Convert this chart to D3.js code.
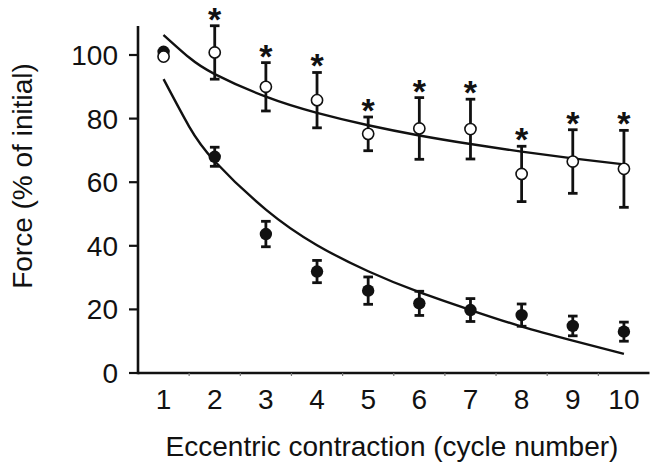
<!DOCTYPE html>
<html>
<head>
<meta charset="utf-8">
<script src="https://cdn.jsdelivr.net/npm/d3@7"></script>
<style>
  html, body { margin: 0; padding: 0; background: #fff; }
  svg { display: block; }
  text { font-family: "Liberation Sans", Arial, sans-serif; fill: #111; }
</style>
</head>
<body>
<svg id="chart" width="658" height="476"></svg>
<script>
// ---- Data ----
const cycles = [1, 2, 3, 4, 5, 6, 7, 8, 9, 10];
const xTickLabels = ["1", "2", "3", "4", "5", "6", "7", "8", "9", "10"];
const yTickValues = [0, 20, 40, 60, 80, 100];

// open circles (upper series)
const openMean = [99.5, 100.8, 90.0, 85.8, 75.2, 76.9, 76.7, 62.6, 66.5, 64.2];
const openErr  = [0, 8.4, 7.6, 8.7, 5.3, 9.7, 9.4, 8.7, 10.0, 12.1];
const openStar = [false, true, true, true, true, true, true, true, true, true];

// filled circles (lower series)
const filledMean = [101.0, 68.0, 43.7, 31.9, 25.9, 21.9, 19.8, 18.2, 14.8, 13.0];
const filledErr  = [0, 3.0, 4.0, 3.5, 4.3, 3.8, 3.6, 3.5, 3.1, 3.0];

// fitted curves, read at these x positions
const fitX      = [1, 1.5, 2, 3, 4, 5, 6, 7, 8, 9, 10];
const fitUpper  = [106.3, 99.2, 94.0, 86.9, 81.8, 77.9, 74.7, 72.0, 69.6, 67.5, 65.6];
const fitLower  = [92.4, 77.5, 66.6, 51.4, 40.2, 32.0, 25.4, 19.8, 14.6, 10.2, 6.0];

// ---- Layout ----
const svg = d3.select("#chart");
const xLeft = 138, xRight = 649.5, yBottom = 373, yTopAxis = 26;

const x = d3.scaleLinear().domain([0.5, 10.5]).range([xLeft, xRight]);
const y = d3.scaleLinear().domain([0, 100]).range([yBottom, 55]);

const ink = "#111";

// ---- Axes ----
svg.append("line")
  .attr("x1", xLeft).attr("x2", xRight)
  .attr("y1", yBottom).attr("y2", yBottom)
  .attr("stroke", ink).attr("stroke-width", 2.6);
const halfTicks = d3.range(1.5, 10.5, 1);
svg.append("g").selectAll("line").data(halfTicks).join("line")
  .attr("x1", d => x(d)).attr("x2", d => x(d))
  .attr("y1", yBottom).attr("y2", yBottom + 3)
  .attr("stroke", "#777").attr("stroke-width", 1.2);
svg.append("g").selectAll("text").data(cycles).join("text")
  .attr("x", d => x(d)).attr("y", 409)
  .attr("text-anchor", "middle")
  .attr("font-size", 28)
  .text((d, i) => xTickLabels[i]);

svg.append("line")
  .attr("x1", xLeft).attr("x2", xLeft)
  .attr("y1", yBottom + 1.3).attr("y2", yTopAxis)
  .attr("stroke", ink).attr("stroke-width", 2.6);
svg.append("g").selectAll("line").data(yTickValues).join("line")
  .attr("x1", xLeft - 9).attr("x2", xLeft)
  .attr("y1", d => y(d)).attr("y2", d => y(d))
  .attr("stroke", ink).attr("stroke-width", 2.2);
svg.append("g").selectAll("text").data(yTickValues).join("text")
  .attr("x", 118).attr("y", d => y(d))
  .attr("dy", "0.36em")
  .attr("text-anchor", "end")
  .attr("font-size", 28)
  .text(d => d);

svg.append("text")
  .attr("x", 392).attr("y", 456)
  .attr("text-anchor", "middle")
  .attr("font-size", 28)
  .text("Eccentric contraction (cycle number)");
svg.append("text")
  .attr("transform", "translate(32,176) rotate(-90)")
  .attr("text-anchor", "middle")
  .attr("font-size", 28)
  .text("Force (% of initial)");

// ---- Fitted curves ----
const line = d3.line().x(d => x(d[0])).y(d => y(d[1])).curve(d3.curveNatural);
svg.append("path")
  .attr("d", line(fitX.map((v, i) => [v, fitUpper[i]])))
  .attr("fill", "none").attr("stroke", ink).attr("stroke-width", 2.4);
svg.append("path")
  .attr("d", line(fitX.map((v, i) => [v, fitLower[i]])))
  .attr("fill", "none").attr("stroke", ink).attr("stroke-width", 2.4);

// ---- Error bars ----
function errorBars(mean, err) {
  const g = svg.append("g").attr("stroke", ink).attr("stroke-width", 2.8);
  cycles.forEach((c, i) => {
    if (!err[i]) return;
    const cx = x(c), t = y(mean[i] + err[i]), b = y(mean[i] - err[i]);
    g.append("line").attr("x1", cx).attr("x2", cx).attr("y1", t).attr("y2", b);
    g.append("line").attr("x1", cx - 4.8).attr("x2", cx + 4.8).attr("y1", t).attr("y2", t);
    g.append("line").attr("x1", cx - 4.8).attr("x2", cx + 4.8).attr("y1", b).attr("y2", b);
  });
}
errorBars(filledMean, filledErr);
errorBars(openMean, openErr);

// ---- Points ----
svg.append("g").selectAll("circle").data(cycles).join("circle")
  .attr("cx", d => x(d)).attr("cy", (d, i) => y(filledMean[i]))
  .attr("r", 6.2).attr("fill", ink);
svg.append("g").selectAll("circle").data(cycles).join("circle")
  .attr("cx", d => x(d)).attr("cy", (d, i) => y(openMean[i]))
  .attr("r", 5.6).attr("fill", "#fff").attr("stroke", ink).attr("stroke-width", 1.6);

// ---- Significance asterisks ----
svg.append("g").selectAll("text").data(cycles.filter((c, i) => openStar[i])).join("text")
  .attr("x", d => x(d))
  .attr("y", d => y(openMean[d - 1] + openErr[d - 1]) + 5)
  .attr("text-anchor", "middle")
  .attr("font-size", 34)
  .attr("font-weight", "bold")
  .text("*");
</script>
</body>
</html>
